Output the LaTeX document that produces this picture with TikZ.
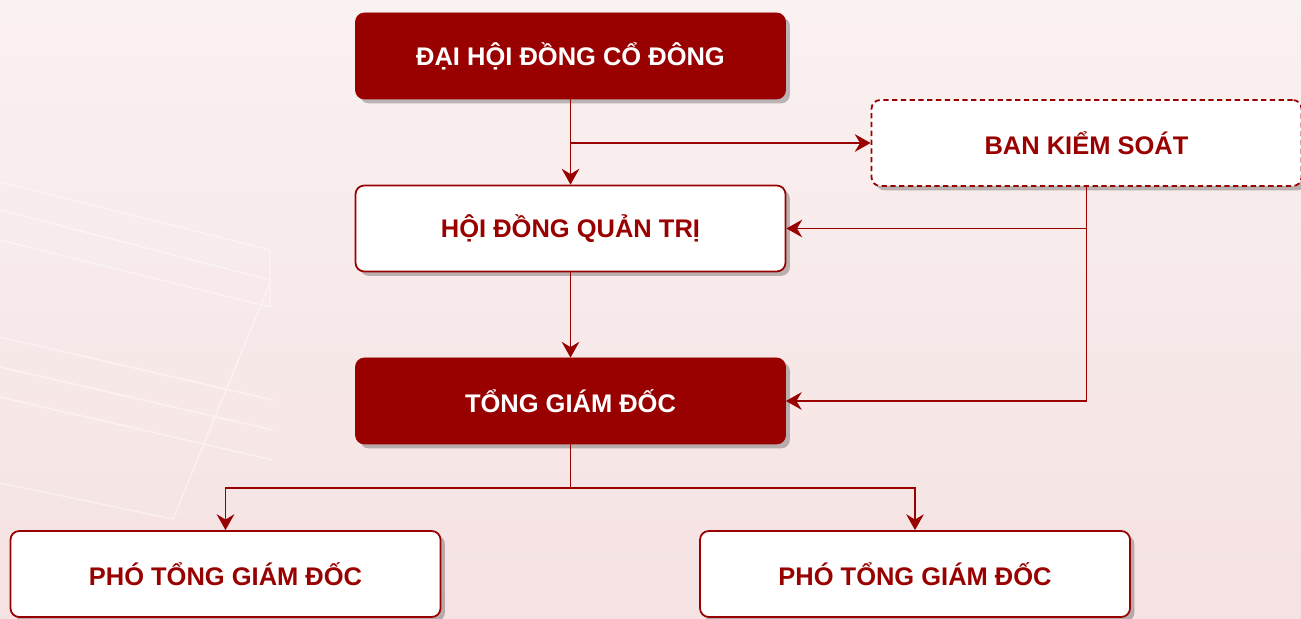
\documentclass[tikz,border=0pt]{standalone}
\usepackage{fontspec}
\setmainfont{Liberation Sans}
\usetikzlibrary{arrows.meta,shadows}

\definecolor{darkred}{HTML}{990000}
\definecolor{bgtop}{HTML}{FAF1F1}
\definecolor{bgbot}{HTML}{F5E2E2}

\tikzset{
	box/.style={rounded corners=5pt, minimum width=8.6cm, minimum height=1.72cm,
		font=\fontsize{14.5}{17}\selectfont\bfseries,
		drop shadow={shadow xshift=2.5pt, shadow yshift=-2.5pt, fill=black, opacity=0.25}},
	darkbox/.style={box, fill=darkred, draw=darkred, text=white},
	lightbox/.style={box, fill=white, draw=darkred, line width=1pt, text=darkred},
	link/.style={draw=darkred, line width=1.1pt, -{Stealth[length=9pt,width=10pt,inset=3pt]}}
}

\begin{document}
\begin{tikzpicture}
			\fill[top color=bgtop, bottom color=bgbot] (0,0) rectangle (26.02,12.36);
			\useasboundingbox (0,0) rectangle (26.02,12.36);
			\draw[white, opacity=0.45, line width=0.8pt]
			(0,8.72) -- (5.4,7.36) -- (5.4,6.22)
			(0,8.16) -- (5.4,6.76)
			(0,7.56) -- (5.4,6.22)
			(0,5.62) -- (5.46,4.36)
			(0,5.02) -- (5.46,3.76)
			(0,4.42) -- (5.46,3.16)
			(5.4,6.70) -- (3.46,1.98) -- (0,2.70);
			
			\node	(dh) at (11.41,11.24) [darkbox] {ĐẠI HỘI ĐỒNG CỔ ĐÔNG};
			\node	(bks) at (21.73,9.5) [lightbox, dash pattern=on 3pt off 2pt] {BAN KIỂM SOÁT};
			\node	(hd) at (11.41,7.79) [lightbox] {HỘI ĐỒNG QUẢN TRỊ};
			\node	(tgd) at (11.41,4.34) [darkbox] {TỔNG GIÁM ĐỐC};
			\node	(p1) at (4.51,0.88) [lightbox] {PHÓ TỔNG GIÁM ĐỐC};
			\node	(p2) at (18.3,0.88) [lightbox] {PHÓ TỔNG GIÁM ĐỐC};
			
			\coordinate (split) at (11.41,9.5);
			\coordinate (fork) at (11.41,2.6);
			
			\draw[link] (dh) -- (hd);
			\draw[link] (split) -- (bks);
			\draw[link] (bks.south) |- (hd.east);
			\draw[link] (bks.south) |- (tgd.east);
			\draw[link] (hd) -- (tgd);
			\draw[link] (tgd.south) -- (fork) -| (p1.north);
			\draw[link] (fork) -| (p2.north);
		\end{tikzpicture}
\end{document}
